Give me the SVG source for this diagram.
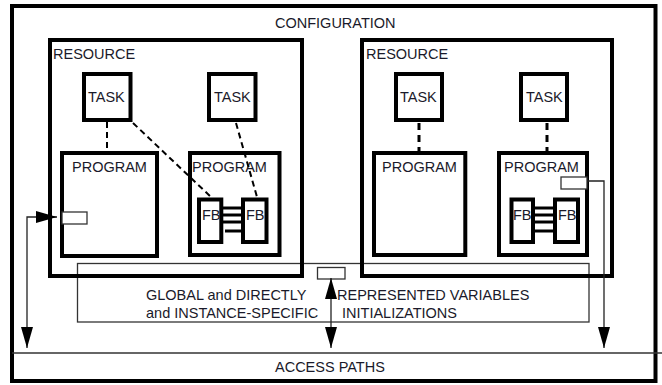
<svg xmlns="http://www.w3.org/2000/svg" width="662" height="385" viewBox="0 0 662 385">
<defs>
<style>
text{font-family:"Liberation Sans",Arial,sans-serif;font-size:14.5px;fill:#1a1a2a}
.thick{fill:none;stroke:#000;stroke-width:4}
.prog{fill:none;stroke:#000;stroke-width:4}
.thin{fill:none;stroke:#333;stroke-width:1.3}
.small{fill:#fff;stroke:#333;stroke-width:1.3}
.dash{fill:none;stroke:#000;stroke-width:2;stroke-dasharray:6 4}
.dash2{fill:none;stroke:#000;stroke-width:3;stroke-dasharray:7 5}
.bar{stroke:#000;stroke-width:3}
.arr{fill:none;stroke:#222;stroke-width:1.3}
</style>
<marker id="ah" markerUnits="userSpaceOnUse" markerWidth="22" markerHeight="14" refX="21" refY="6" orient="auto-start-reverse" viewBox="0 0 22 12">
<path d="M0,0 L21,6 L0,12 z" fill="#000"/>
</marker>
</defs>
<rect width="662" height="385" fill="#fff"/>
<g id="configuration">
<rect class="thick" x="12" y="6" width="643.5" height="375"/>
<text x="275" y="28">CONFIGURATION</text>
</g>
<g id="access-paths">
<line x1="12" y1="353" x2="662" y2="353" stroke="#333" stroke-width="1.5"/>
<text x="275" y="372">ACCESS PATHS</text>
</g>
<g id="global-vars">
<rect class="thin" x="77.5" y="263.5" width="511.5" height="58.5"/>
<text x="146" y="300">GLOBAL and DIRECTLY</text>
<text x="146" y="318">and INSTANCE-SPECIFIC</text>
<text x="337" y="300">REPRESENTED VARIABLES</text>
<text x="342" y="318">INITIALIZATIONS</text>
<rect class="small" x="317.5" y="267.5" width="27.5" height="11.5"/>
</g>
<g id="resource1">
<rect class="thick" x="50" y="40" width="252" height="236"/>
<text x="53" y="59">RESOURCE</text>
</g>
<g id="resource2">
<rect class="thick" x="362" y="40" width="250" height="236"/>
<text x="366" y="59">RESOURCE</text>
</g>
<g id="task1"><rect class="thick" x="84" y="74" width="46.5" height="46"/><text x="88" y="102">TASK</text></g>
<g id="task2"><rect class="thick" x="209" y="74" width="46.5" height="46"/><text x="214" y="102">TASK</text></g>
<g id="task3"><rect class="thick" x="396" y="74" width="46" height="46"/><text x="400" y="102">TASK</text></g>
<g id="task4"><rect class="thick" x="521" y="74" width="46" height="46"/><text x="526" y="102">TASK</text></g>
<g id="program1">
<rect class="prog" x="62" y="153" width="95" height="103"/>
<text x="72" y="172">PROGRAM</text>
<rect class="small" x="62" y="212" width="25" height="12"/>
</g>
<g id="program2">
<rect class="prog" x="190" y="153" width="89.5" height="102"/>
<text x="192" y="172">PROGRAM</text>
</g>
<g id="program3">
<rect class="prog" x="374" y="153" width="91.3" height="102"/>
<text x="382" y="172">PROGRAM</text>
</g>
<g id="program4">
<rect class="prog" x="499" y="153" width="88" height="102"/>
<text x="504" y="172">PROGRAM</text>
<rect class="small" x="561" y="177" width="26" height="12"/>
</g>
<g id="fb1"><rect class="prog" x="199" y="199.5" width="22.3" height="42.5"/><text x="202" y="220">FB</text></g>
<g id="fb2"><rect class="prog" x="243" y="199.5" width="23.5" height="42.5"/><text x="246" y="220">FB</text></g>
<g id="fb3"><rect class="prog" x="511.5" y="199.5" width="21.5" height="42.5"/><text x="513" y="220">FB</text></g>
<g id="fb4"><rect class="prog" x="555" y="199.5" width="23" height="42.5"/><text x="558" y="220">FB</text></g>
<g id="connectors">
<line class="dash" x1="107" y1="122" x2="107" y2="151"/>
<line class="dash" x1="133" y1="123" x2="211" y2="197"/>
<line class="dash" x1="236" y1="123" x2="257" y2="197"/>
<line class="dash2" x1="419" y1="123" x2="419" y2="151"/>
<line class="dash2" x1="547" y1="123" x2="547" y2="151"/>
<line class="bar" x1="221" y1="208" x2="243" y2="208"/>
<line class="bar" x1="221" y1="215" x2="243" y2="215"/>
<line class="bar" x1="221" y1="222" x2="243" y2="222"/>
<line class="bar" x1="225" y1="231" x2="243" y2="231"/>
<line class="bar" x1="533" y1="208" x2="555" y2="208"/>
<line class="bar" x1="533" y1="215" x2="555" y2="215"/>
<line class="bar" x1="533" y1="222" x2="555" y2="222"/>
<line class="bar" x1="533" y1="231" x2="555" y2="231"/>
<path class="arr" d="M27,348 V217 H57" marker-start="url(#ah)" marker-end="url(#ah)"/>
<path class="arr" d="M587,181 H604 V348" marker-end="url(#ah)"/>
<path class="arr" d="M331,278 V348" marker-start="url(#ah)" marker-end="url(#ah)"/>
</g>
</svg>
